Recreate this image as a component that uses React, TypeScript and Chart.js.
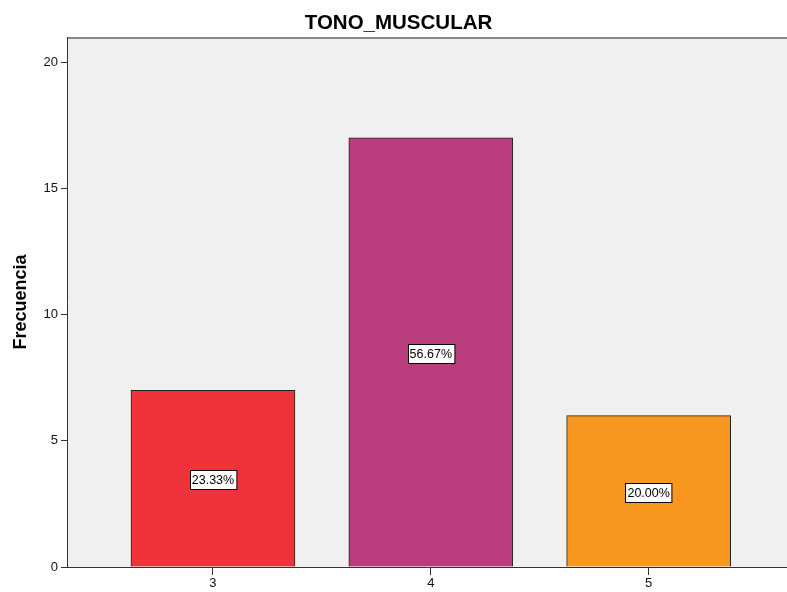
import React, { useEffect, useRef } from "react";
import { Chart, registerables } from "chart.js";

Chart.register(...registerables);

const categories = [3, 4, 5];
const frequencies = [7, 17, 6];
const percentLabels = ["23.33%", "56.67%", "20.00%"];
const barColors = ["#f0333a", "#b93d7c", "#f7971f"];
const yTicks = [0, 5, 10, 15, 20];
const chartTitle = "TONO_MUSCULAR";
const yTitle = "Frecuencia";

const FONT = "'Liberation Sans', Arial, sans-serif";

const bgPlugin = {
  id: "bgPlugin",
  beforeDraw(chart: any) {
    const { ctx, chartArea } = chart;
    ctx.save();
    ctx.fillStyle = "#f0f0f0";
    ctx.fillRect(chartArea.left, chartArea.top, chartArea.right - chartArea.left, chartArea.bottom - chartArea.top);
    ctx.strokeStyle = "#8a8a8a";
    ctx.lineWidth = 2;
    ctx.beginPath();
    ctx.moveTo(chartArea.left, chartArea.top + 1);
    ctx.lineTo(chartArea.right, chartArea.top + 1);
    ctx.stroke();
    ctx.restore();
  },
};

const labelPlugin = {
  id: "labelPlugin",
  afterDatasetsDraw(chart: any) {
    const { ctx } = chart;
    const meta = chart.getDatasetMeta(0);
    const yScale = chart.scales.y;
    ctx.save();
    ctx.font = `12.5px ${FONT}`;
    ctx.textAlign = "center";
    ctx.textBaseline = "middle";
    meta.data.forEach((bar: any, i: number) => {
      const text = percentLabels[i];
      const cy = yScale.getPixelForValue(frequencies[i] / 2) + 1;
      const w = ctx.measureText(text).width + 4;
      const h = 19;
      const x = Math.round(bar.x - w / 2) + 0.5;
      const y = Math.round(cy - h / 2) + 0.5;
      ctx.fillStyle = "#ffffff";
      ctx.fillRect(x, y, w, h);
      ctx.strokeStyle = "#000000";
      ctx.lineWidth = 1;
      ctx.strokeRect(x, y, w, h);
      ctx.fillStyle = "#000000";
      ctx.fillText(text, bar.x, cy + 1);
    });
    ctx.restore();
  },
};

export default function App() {
  const ref = useRef<HTMLCanvasElement>(null);
  useEffect(() => {
    if (!ref.current) return;
    const chart = new Chart(ref.current, {
      type: "bar",
      data: {
        datasets: [
          {
            data: categories.map((c, i) => ({ x: c, y: frequencies[i] })),
            backgroundColor: barColors,
            borderColor: "#222222",
            borderWidth: 1,
            barThickness: 164,
          },
        ],
      },
      options: {
        animation: false,
        responsive: false,
        devicePixelRatio: 1,
        layout: { padding: { left: 10, right: 0, top: 0, bottom: 0 } },
        plugins: {
          legend: { display: false },
          tooltip: { enabled: false },
          title: {
            display: true,
            text: chartTitle,
            color: "#000",
            font: { family: FONT, size: 20.5, weight: "bold" },
            padding: { top: 11, bottom: 1.4 },
          },
        },
        scales: {
          x: {
            type: "linear",
            offset: false,
            min: 2.33,
            max: 5.635,
            afterBuildTicks: (s: any) => {
              s.ticks = categories.map((v) => ({ value: v }));
            },
            afterFit: (s: any) => {
              s.height = 25;
            },
            grid: {
              offset: false,
              drawOnChartArea: false,
              drawTicks: true,
              tickLength: 8,
              color: "#333",
            },
            border: { display: true, color: "#333", width: 1 },
            ticks: {
              color: "#111",
              font: { family: FONT, size: 13 },
              padding: 1,
              callback: (v: any) => String(v),
            },
          },
          y: {
            type: "linear",
            min: 0,
            max: 21,
            afterBuildTicks: (s: any) => {
              s.ticks = yTicks.map((v) => ({ value: v }));
            },
            afterFit: (s: any) => {
              s.width = 57;
            },
            grid: {
              drawOnChartArea: false,
              drawTicks: true,
              tickLength: 6,
              color: "#333",
            },
            border: { display: true, color: "#333", width: 1 },
            ticks: {
              color: "#111",
              font: { family: FONT, size: 13 },
              padding: 3,
            },
            title: {
              display: true,
              text: yTitle,
              color: "#000",
              font: { family: FONT, size: 18, weight: "bold" },
              padding: { top: 0, bottom: 0 },
            },
          },
        },
      },
      plugins: [bgPlugin, labelPlugin],
    });
    return () => chart.destroy();
  }, []);
  return (
    <div style={{ position: "absolute", left: 0, top: 0, width: 787, height: 592, background: "#fff" }}>
      <canvas ref={ref} width={787} height={592} style={{ width: 787, height: 592 }} />
    </div>
  );
}
